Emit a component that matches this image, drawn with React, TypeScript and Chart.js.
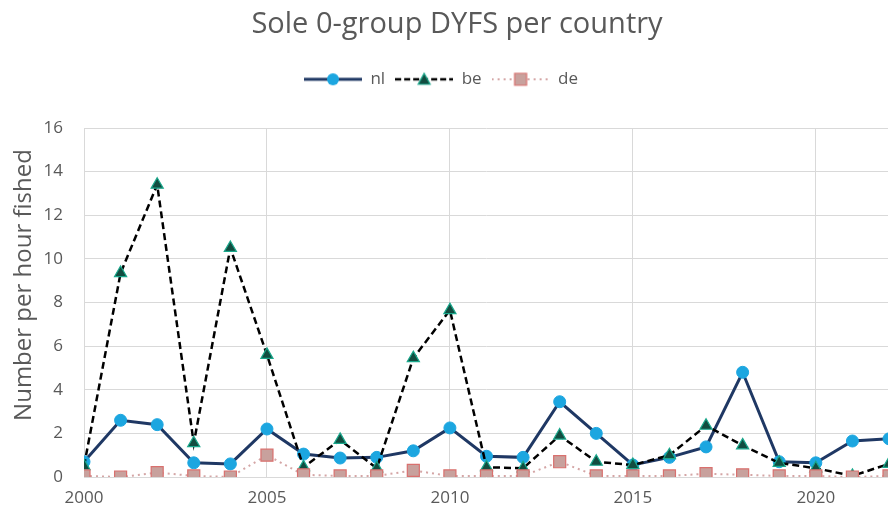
import React, { useEffect, useRef } from 'react';
import { Chart, registerables } from 'chart.js';

Chart.register(...registerables);

const years = [2000, 2001, 2002, 2003, 2004, 2005, 2006, 2007, 2008, 2009, 2010, 2011, 2012, 2013, 2014, 2015, 2016, 2017, 2018, 2019, 2020, 2021, 2022];
const nlValues = [0.7, 2.6, 2.4, 0.65, 0.6, 2.2, 1.05, 0.87, 0.9, 1.2, 2.25, 0.95, 0.9, 3.45, 2.0, 0.55, 0.9, 1.38, 4.8, 0.7, 0.65, 1.65, 1.75];
const beValues = [0.5, 9.35, 13.4, 1.55, 10.5, 5.6, 0.45, 1.7, 0.4, 5.45, 7.65, 0.45, 0.4, 1.9, 0.7, 0.55, 1.0, 2.35, 1.45, 0.65, 0.4, 0.05, 0.6];
const deValues = [0.05, 0.0, 0.2, 0.05, 0.0, 1.0, 0.1, 0.05, 0.05, 0.3, 0.05, 0.05, 0.05, 0.7, 0.05, 0.05, 0.05, 0.15, 0.1, 0.05, 0.05, 0.0, 0.05];
const seriesNames = ['nl', 'be', 'de'];
const chartTitle = 'Sole 0-group DYFS per country';
const yAxisTitle = 'Number per hour fished';

const TEXT = '#595959';
const FONT = "'Open Sans', 'DejaVu Sans', sans-serif";
const ICON_W = 58;

function makeIcon(kind: string): HTMLCanvasElement {
  const c = document.createElement('canvas');
  c.width = ICON_W;
  c.height = 18;
  const ctx = c.getContext('2d') as CanvasRenderingContext2D;
  const cy = 9;
  const mid = ICON_W / 2;
  ctx.beginPath();
  if (kind === 'nl') {
    ctx.strokeStyle = '#1F3864';
    ctx.lineWidth = 3;
  } else if (kind === 'be') {
    ctx.strokeStyle = '#000000';
    ctx.lineWidth = 2.5;
    ctx.setLineDash([6, 3]);
  } else {
    ctx.strokeStyle = '#D4A5A5';
    ctx.lineWidth = 2;
    ctx.setLineDash([2, 4]);
  }
  ctx.moveTo(0, cy);
  ctx.lineTo(ICON_W, cy);
  ctx.stroke();
  ctx.setLineDash([]);
  ctx.beginPath();
  if (kind === 'nl') {
    ctx.fillStyle = '#1CA6E0';
    ctx.arc(mid, cy, 6, 0, Math.PI * 2);
    ctx.fill();
  } else if (kind === 'be') {
    ctx.fillStyle = '#124D40';
    ctx.strokeStyle = '#1AA88C';
    ctx.lineWidth = 1.2;
    ctx.moveTo(mid, cy - 6);
    ctx.lineTo(mid + 6, cy + 5);
    ctx.lineTo(mid - 6, cy + 5);
    ctx.closePath();
    ctx.fill();
    ctx.stroke();
  } else {
    ctx.fillStyle = '#C8A19D';
    ctx.strokeStyle = '#D9706E';
    ctx.lineWidth = 1.2;
    ctx.rect(mid - 6, cy - 6, 12, 12);
    ctx.fill();
    ctx.stroke();
  }
  return c;
}

const legendShift = {
  id: 'legendShift',
  afterLayout(chart: any) {
    if (chart.legend) {
      chart.legend.left -= 16;
      chart.legend.right -= 16;
    }
  },
};

const yTitlePlugin = {
  id: 'yTitlePlugin',
  afterDraw(chart: any) {
    const ctx = chart.ctx as CanvasRenderingContext2D;
    ctx.save();
    ctx.translate(24, 285);
    ctx.rotate(-Math.PI / 2);
    ctx.fillStyle = TEXT;
    ctx.font = `24px ${FONT}`;
    ctx.textAlign = 'center';
    ctx.textBaseline = 'middle';
    ctx.fillText(yAxisTitle, 0, 0);
    ctx.restore();
  },
};

export default function App() {
  const ref = useRef<HTMLCanvasElement | null>(null);

  useEffect(() => {
    if (!ref.current) return;
    const icons = seriesNames.map((n) => makeIcon(n));
    const toPts = (vals: number[]) => years.map((yr, i) => ({ x: yr, y: vals[i] }));
    const chart = new Chart(ref.current, {
      type: 'line',
      data: {
        datasets: [
          {
            label: seriesNames[0],
            data: toPts(nlValues),
            borderColor: '#1F3864',
            borderWidth: 3,
            pointStyle: 'circle',
            pointRadius: 6,
            pointBackgroundColor: '#1CA6E0',
            pointBorderColor: '#1CA6E0',
            pointBorderWidth: 1,
            order: 3,
          },
          {
            label: seriesNames[1],
            data: toPts(beValues),
            borderColor: '#000000',
            borderWidth: 2.5,
            borderDash: [7, 4],
            pointStyle: 'triangle',
            pointRadius: 7,
            pointBackgroundColor: '#124D40',
            pointBorderColor: '#1AA88C',
            pointBorderWidth: 1.2,
            order: 2,
          },
          {
            label: seriesNames[2],
            data: toPts(deValues),
            borderColor: '#D4A5A5',
            borderWidth: 2,
            borderDash: [2, 4],
            pointStyle: 'rect',
            pointRadius: 8.5,
            pointBackgroundColor: '#C8A19D',
            pointBorderColor: '#D9706E',
            pointBorderWidth: 1.2,
            order: 1,
          },
        ],
      },
      plugins: [legendShift, yTitlePlugin],
      options: {
        animation: false,
        responsive: true,
        maintainAspectRatio: false,
        layout: { padding: { left: 25, right: 25, top: 0, bottom: 7 } },
        plugins: {
          title: {
            display: true,
            text: chartTitle,
            color: TEXT,
            font: { family: FONT, size: 29, weight: 'normal' },
            padding: { top: 7, bottom: 19 },
          },
          subtitle: {
            display: true,
            text: ' ',
            weight: 500,
            font: { size: 1 },
            padding: { top: 0, bottom: 29 },
          } as any,
          legend: {
            display: true,
            reverse: true,
            labels: {
              usePointStyle: true,
              pointStyleWidth: ICON_W,
              color: TEXT,
              padding: 10,
              font: { family: FONT, size: 17 },
              generateLabels: (ch: any) => {
                const base = Chart.defaults.plugins.legend.labels.generateLabels(ch);
                return base.map((it: any) => ({ ...it, pointStyle: icons[it.datasetIndex] }));
              },
            },
          },
          tooltip: { enabled: false },
        },
        scales: {
          x: {
            type: 'linear',
            min: 2000,
            max: 2022,
            grid: { color: '#D9D9D9', lineWidth: 1, drawTicks: false },
            border: { display: false },
            afterFit: (scale: any) => {
              scale.height = 31;
            },
            ticks: {
              stepSize: 5,
              includeBounds: false,
              padding: 11,
              color: TEXT,
              font: { family: FONT, size: 17 },
              callback: (v: any) => String(v),
            },
          },
          y: {
            min: 0,
            max: 16,
            grid: { color: '#D9D9D9', lineWidth: 1, drawTicks: false },
            border: { display: false },
            afterFit: (scale: any) => {
              scale.width = 59;
            },
            ticks: {
              stepSize: 2,
              padding: 21,
              color: TEXT,
              font: { family: FONT, size: 17 },
            },
          },
        },
      },
    });
    return () => chart.destroy();
  }, []);

  return (
    <div style={{ position: 'absolute', left: 0, top: 0, width: 888, height: 515, overflow: 'hidden', background: '#fff' }}>
      <div style={{ position: 'relative', width: 914, height: 515 }}>
        <canvas ref={ref} />
      </div>
    </div>
  );
}
